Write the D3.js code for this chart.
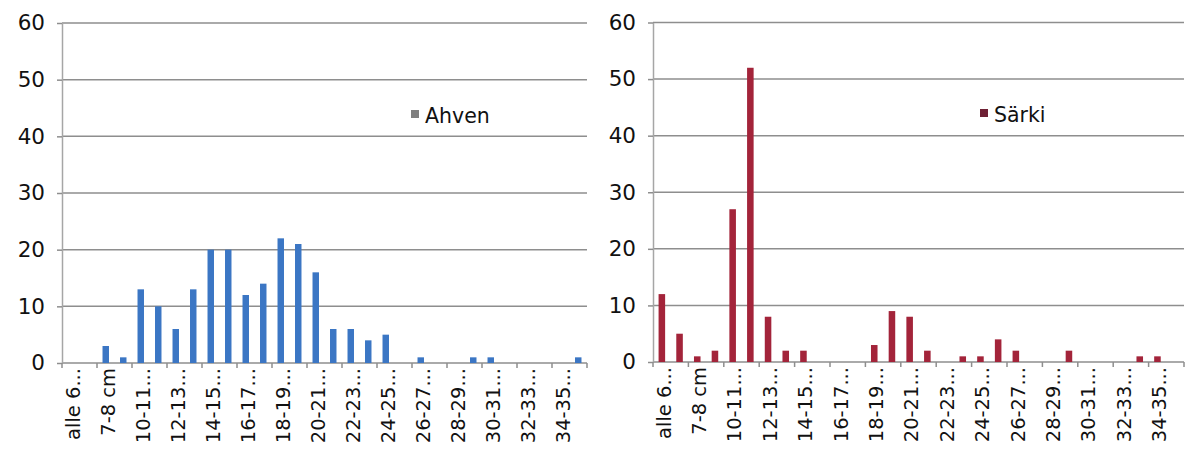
<!DOCTYPE html>
<html><head><meta charset="utf-8">
<script src="https://cdn.jsdelivr.net/npm/d3@7"></script>
<style>body{margin:0;background:#fff}svg{display:block}</style>
</head><body>
<svg id="c" width="1189" height="463"></svg>
<script>
// ---- data ----
const categories = ["alle 6 cm","6-7 cm","7-8 cm","8-10 cm","10-11 cm","11-12 cm","12-13 cm","13-14 cm","14-15 cm","15-16 cm",
  "16-17 cm","17-18 cm","18-19 cm","19-20 cm","20-21 cm","21-22 cm","22-23 cm","23-24 cm","24-25 cm","25-26 cm",
  "26-27 cm","27-28 cm","28-29 cm","29-30 cm","30-31 cm","31-32 cm","32-33 cm","33-34 cm","34-35 cm","yli 35 cm"];
const ahvenValues = [0,0,3,1,13,10,6,13,20,20,12,14,22,21,16,6,6,4,5,0,1,0,0,1,1,0,0,0,0,1];
const sarkiValues = [12,5,1,2,27,52,8,2,2,0,0,0,3,9,8,2,0,1,1,4,2,0,0,2,0,0,0,1,1,0];
const yTicks = [0,10,20,30,40,50,60];
const seriesNames = ["Ahven","Särki"];

function shortLabel(s){ return s.length > 6 ? s.slice(0,6).trim() + "..." : s; }

const svg = d3.select("#c");

function drawChart(cfg){
  const x = d3.scaleBand().domain(categories).range([cfg.x0, cfg.x1]).padding(0);
  const y = d3.scaleLinear().domain([0,60]).range([cfg.y0, cfg.y1]);
  const g = svg.append("g");

  // gridlines
  g.append("g").selectAll("line").data(yTicks).join("line")
    .attr("x1", cfg.x0).attr("x2", cfg.x1)
    .attr("y1", d => y(d)).attr("y2", d => y(d))
    .attr("stroke", "#8e8e8e").attr("stroke-width", 1.5);

  // y axis
  const ya = g.append("g").attr("transform", `translate(${cfg.x0},0)`)
    .call(d3.axisLeft(y).tickValues(yTicks).tickSize(5).tickSizeOuter(0).tickPadding(12));
  ya.select(".domain").attr("stroke", "#a6a6a6").attr("stroke-width", 1.5);
  ya.selectAll(".tick line").attr("stroke", "#8e8e8e").attr("stroke-width", 1.5);
  ya.selectAll("text").attr("font-family", "DejaVu Sans").attr("font-size", 21.5).attr("fill", "#111");

  // bars
  const bw = x.bandwidth(), w = bw * 0.37;
  g.append("g").selectAll("rect").data(cfg.values.map((v,i) => ({c: categories[i], v})))
    .join("rect")
    .attr("x", d => x(d.c) + (bw - w) / 2)
    .attr("width", w)
    .attr("y", d => y(d.v))
    .attr("height", d => y(0) - y(d.v))
    .attr("fill", cfg.color);

  // x axis tick marks at category boundaries (every second)
  const bounds = categories.filter((d,i) => i % 2 === 0).map(d => x(d)).concat([cfg.x1]);
  g.append("g").selectAll("line").data(bounds).join("line")
    .attr("x1", d => d).attr("x2", d => d)
    .attr("y1", cfg.y0).attr("y2", cfg.y0 + 5)
    .attr("stroke", "#8e8e8e").attr("stroke-width", 1.5);

  // x axis labels
  const xa = g.append("g").attr("transform", `translate(0,${cfg.y0})`)
    .call(d3.axisBottom(x).tickValues(categories.filter((d,i) => i % 2 === 0))
      .tickFormat(shortLabel).tickSize(0).tickSizeOuter(0));
  xa.select(".domain").remove();
  xa.selectAll("text")
    .attr("font-family", "DejaVu Sans").attr("font-size", 19.5).attr("fill", "#111")
    .attr("y", 2).attr("x", -5).attr("dy", "0.35em")
    .attr("transform", "rotate(-90)")
    .style("text-anchor", "end");

  // legend
  const lg = g.append("g").attr("transform", `translate(${cfg.legendX},${cfg.legendY})`);
  lg.append("rect").attr("x", 0).attr("y", -13).attr("width", 8).attr("height", 8).attr("fill", cfg.legendColor);
  lg.append("text").attr("x", 14).attr("y", 0).text(cfg.name)
    .attr("font-family", "DejaVu Sans").attr("font-size", 20.5).attr("fill", "#111");
}

drawChart({x0: 62, x1: 587, y0: 363, y1: 23, values: ahvenValues, color: "#3b76c4",
  legendColor: "#7f7f7f", name: seriesNames[0], legendX: 411, legendY: 123});
drawChart({x0: 653, x1: 1184, y0: 362, y1: 22.5, values: sarkiValues, color: "#a3243a",
  legendColor: "#6e2034", name: seriesNames[1], legendX: 980, legendY: 122});
</script>
</body></html>
